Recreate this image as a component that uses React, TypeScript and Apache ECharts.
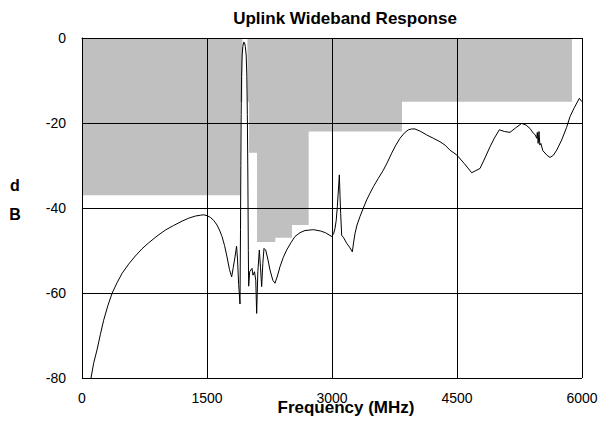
import React, { useEffect, useRef } from "react";
import * as echarts from "echarts";

const titleText = "Uplink Wideband Response";
const xName = "Frequency (MHz)";
const yNameLines = ["d", "B"];

// Limit mask (frequency MHz, level dB), filled from the top of the plot down to the level
const maskFreq = [0, 1900, 1900, 1925, 1925, 1985, 1985, 2005, 2005, 2100, 2100, 2320, 2320, 2520, 2520, 2720, 2720, 3840, 3840, 5880, 5880, 6000];
const maskLevel = [-37, -37, -15, -15, 0, 0, -15, -15, -27, -27, -48, -48, -47, -47, -44, -44, -22, -22, -15, -15, 0, 0];

// Measured response (frequency MHz, dB)
const respFreq = [
  108, 140, 180, 220, 260, 310, 360, 420, 480, 560, 640, 720, 800, 900, 1000, 1100, 1200, 1280, 1360, 1420,
  1460, 1500, 1540, 1580, 1620, 1650, 1680, 1710, 1740, 1770, 1796, 1815, 1836, 1855, 1866, 1880, 1896, 1902, 1906, 1910,
  1915, 1922, 1930, 1940, 1950, 1960, 1970, 1978, 1984, 1990, 1996, 2000, 2012, 2040, 2052, 2070, 2085, 2096, 2110, 2128,
  2142, 2156, 2170, 2184, 2204, 2230, 2256, 2290, 2316, 2345, 2376, 2416, 2456, 2506, 2556, 2616, 2676, 2776, 2860, 2920,
  2996, 3020, 3036, 3050, 3064, 3076, 3088, 3096, 3104, 3116, 3140, 3176, 3210, 3244, 3260, 3276, 3300, 3336, 3376, 3416,
  3456, 3496, 3556, 3616, 3666, 3716, 3766, 3816, 3866, 3916, 3956, 3996, 4066, 4136, 4216, 4296, 4356, 4416, 4496, 4586,
  4676, 4726, 4776, 4836, 4896, 4950, 5008, 5070, 5136, 5200, 5276, 5330, 5376, 5420, 5440, 5456, 5464, 5474, 5484, 5494,
  5506, 5530, 5580, 5616, 5656, 5696, 5756, 5816, 5856, 5910, 5968, 6000,
];
const respDb = [
  -80, -76.5, -73.4, -69.8, -66.4, -63, -60.1, -57.6, -55.4, -53.2, -51.3, -49.6, -48.2, -46.6, -45.2, -44.1, -43.1, -42.4, -41.9, -41.7,
  -41.6, -41.8, -42.2, -42.9, -44, -45.2, -46.7, -48.8, -51.5, -54.5, -56.2, -54, -51.5, -49, -52, -58, -62.6, -45, -30, -18,
  -9, -4, -2, -1, -1.1, -2, -4, -9, -18, -32, -50, -58.4, -55, -54.2, -55.8, -55, -57, -64.8, -55, -49.9,
  -54, -58.5, -53, -49.5, -49.9, -52, -54.6, -57, -57.7, -56, -53.8, -51.6, -49.9, -48.2, -46.7, -45.8, -45.3, -45.1, -45.4, -45.8,
  -46.7, -46, -44.8, -43, -39.7, -36, -32.2, -37, -41.3, -46.4, -47, -48.3, -49.2, -50.3, -48, -46, -44, -42, -40, -38.1,
  -36.5, -35, -33, -31.1, -29.2, -27.1, -25.2, -23.6, -22.4, -21.6, -21.4, -21.4, -22, -22.8, -23.6, -24.4, -25.2, -26.4, -27.5, -29.5,
  -31.7, -31.2, -30.7, -28.2, -25.6, -23.5, -21.6, -22, -22.2, -21.2, -20.1, -20.5, -21.3, -22.5, -22.8, -23.6, -22.2, -24.8, -22, -25.2,
  -24.8, -26.5, -27.6, -28.1, -27.6, -26.4, -24, -21, -18.5, -16.3, -14.2, -15,
];

const xMin = 0;
const xMax = 6000;
const xStep = 1500;
const yMin = -80;
const yMax = 0;
const yStep = 20;

const FONT = "Liberation Sans, Arial, sans-serif";

export default function App() {
  const ref = useRef<HTMLDivElement>(null);

  useEffect(() => {
    if (!ref.current) return;
    const chart = echarts.init(ref.current, undefined, { renderer: "svg" });
    const maskData = maskFreq.map((f, i) => [f, maskLevel[i]]);
    const respData = respFreq.map((f, i) => [f, respDb[i]]);
    chart.setOption({
      animation: false,
      backgroundColor: "#ffffff",
      grid: { left: 82, right: 19, top: 38, bottom: 46, containLabel: false },
      xAxis: {
        type: "value",
        min: xMin,
        max: xMax,
        interval: xStep,
        z: 3,
        axisLine: { show: true, lineStyle: { color: "#000", width: 1 } },
        axisTick: { show: false },
        splitLine: { show: true, lineStyle: { color: "#000", width: 1 } },
        axisLabel: {
          color: "#000",
          fontFamily: FONT,
          fontSize: 14,
          margin: 13,
          formatter: (v: number) => String(v),
        },
      },
      yAxis: {
        type: "value",
        min: yMin,
        max: yMax,
        interval: yStep,
        z: 3,
        axisLine: { show: true, lineStyle: { color: "#000", width: 1 } },
        axisTick: { show: false },
        splitLine: { show: true, lineStyle: { color: "#000", width: 1 } },
        axisLabel: {
          color: "#000",
          fontFamily: FONT,
          fontSize: 14,
          margin: 16,
          formatter: (v: number) => String(v),
        },
      },
      series: [
        {
          type: "line",
          data: maskData,
          z: 1,
          symbol: "none",
          silent: true,
          lineStyle: { width: 0, color: "#c0c0c0" },
          areaStyle: { color: "#c0c0c0", opacity: 1, origin: "end" },
        },
        {
          type: "line",
          data: respData,
          z: 5,
          symbol: "none",
          clip: true,
          lineStyle: { width: 1, color: "#000" },
        },
      ],
      graphic: [
        {
          type: "text",
          x: 345,
          y: 18,
          style: { text: titleText, font: `bold 17px ${FONT}`, fill: "#000", align: "center", verticalAlign: "middle" },
        },
        {
          type: "text",
          x: 346,
          y: 407,
          z: 10,
          style: { text: xName, font: `bold 17px ${FONT}`, fill: "#000", align: "center", verticalAlign: "middle" },
        },
        {
          type: "text",
          x: 15,
          y: 185,
          style: { text: yNameLines[0], font: `bold 16px ${FONT}`, fill: "#000", align: "center", verticalAlign: "middle" },
        },
        {
          type: "text",
          x: 15,
          y: 214,
          style: { text: yNameLines[1], font: `bold 16px ${FONT}`, fill: "#000", align: "center", verticalAlign: "middle" },
        },
      ],
    });
    return () => chart.dispose();
  }, []);

  return <div ref={ref} style={{ width: 601, height: 424, position: "absolute", left: 0, top: 0 }} />;
}
